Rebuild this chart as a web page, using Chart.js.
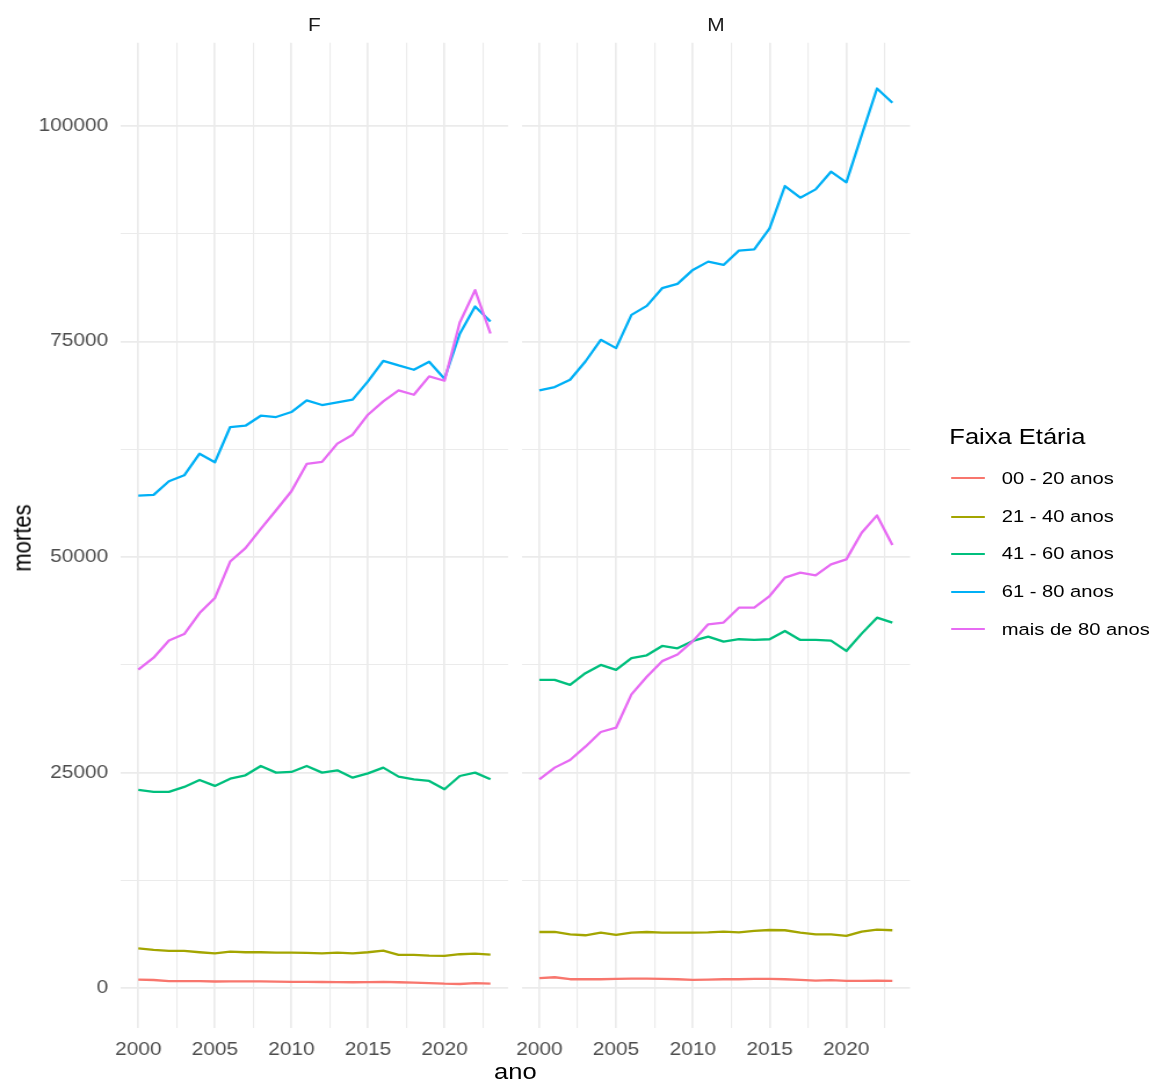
<!DOCTYPE html>
<html>
<head>
<meta charset="utf-8">
<script src="https://cdn.jsdelivr.net/npm/chart.js@4/dist/chart.umd.min.js"></script>
<style>
  html, body { margin: 0; padding: 0; background: #ffffff; overflow: hidden; }
  #stage { position: absolute; left: 0; top: 0; height: 1082px; transform-origin: 0 0;
           font-family: "Liberation Sans", Arial, sans-serif; }
  #stage canvas { position: absolute; left: 0; top: 0; }
  .txt { position: absolute; white-space: nowrap; }
</style>
</head>
<body>
<div id="stage"></div>
<script>
// ---- data: deaths per year, by sex and age group ----
const YEARS = [2000, 2001, 2002, 2003, 2004, 2005, 2006, 2007, 2008, 2009, 2010, 2011,
               2012, 2013, 2014, 2015, 2016, 2017, 2018, 2019, 2020, 2021, 2022, 2023];

const AGE_GROUPS = ['00 - 20 anos', '21 - 40 anos', '41 - 60 anos', '61 - 80 anos', 'mais de 80 anos'];
const SEXES = ['F', 'M'];

const F_00_20 = [1000, 950, 830, 820, 810, 780, 800, 800, 790, 760, 740, 730,
                 720, 700, 690, 700, 740, 690, 640, 590, 520, 490, 590, 540];
const F_21_40 = [4630, 4440, 4320, 4320, 4170, 4050, 4250, 4170, 4170, 4130, 4130, 4090,
                 4050, 4130, 4050, 4170, 4360, 3860, 3860, 3780, 3740, 3940, 4010, 3900];
const F_41_60 = [22990, 22760, 22760, 23340, 24150, 23460, 24300, 24690, 25770, 25000, 25080, 25770,
                 25000, 25270, 24420, 24920, 25580, 24540, 24230, 24040, 23070, 24610, 25000, 24230];
const F_61_80 = [57130, 57210, 58790, 59480, 61990, 60990, 65080, 65230, 66390, 66240, 66820, 68170,
                 67630, 67940, 68250, 70370, 72760, 72220, 71720, 72650, 70680, 75900, 79050, 77330];
const F_80_MAIS = [36940, 38330, 40330, 41070, 43500, 45240, 49480, 51030, 53270, 55430, 57630, 60800,
                   61030, 63150, 64190, 66510, 68050, 69330, 68820, 70950, 70450, 77200, 80950, 75930];

const M_00_20 = [1160, 1270, 1040, 1040, 1040, 1080, 1120, 1120, 1080, 1040, 965, 1000,
                 1040, 1040, 1080, 1080, 1040, 965, 890, 930, 850, 850, 890, 850];
const M_21_40 = [6520, 6520, 6250, 6140, 6450, 6180, 6450, 6520, 6450, 6450, 6450, 6480,
                 6560, 6480, 6640, 6750, 6720, 6450, 6250, 6250, 6060, 6560, 6790, 6720];
const M_41_60 = [35760, 35760, 35180, 36530, 37490, 36910, 38270, 38610, 39690, 39420, 40270, 40780,
                 40200, 40470, 40390, 40470, 41430, 40390, 40390, 40310, 39110, 41120, 42970, 42400];
const M_61_80 = [69330, 69710, 70560, 72680, 75190, 74230, 78090, 79130, 81180, 81680, 83300, 84260,
                 83880, 85540, 85690, 88120, 93030, 91680, 92640, 94690, 93450, 98930, 104340, 102680];
const M_80_MAIS = [24230, 25580, 26470, 28010, 29710, 30210, 34070, 36120, 37930, 38700, 40250, 42200,
                   42400, 44130, 44130, 45480, 47610, 48190, 47880, 49150, 49730, 52820, 54830, 51390];

// tick positions (major + minor grid) and the labelled subset
const X_TICKS = [2000, 2002.5, 2005, 2007.5, 2010, 2012.5, 2015, 2017.5, 2020, 2022.5];
const X_LABELS = [2000, 2005, 2010, 2015, 2020];
const Y_TICKS = [0, 12500, 25000, 37500, 50000, 62500, 75000, 87500, 100000];
const Y_LABELS = [0, 25000, 50000, 75000, 100000];

const PANEL_DATA = {
  F: [F_00_20, F_21_40, F_41_60, F_61_80, F_80_MAIS],
  M: [M_00_20, M_21_40, M_41_60, M_61_80, M_80_MAIS]
};

// ---- styling ----
const COLORS = ['#F8766D', '#A3A500', '#00BF7D', '#00B0F6', '#E76BF3'];
const FONT = '"Liberation Sans", Arial, sans-serif';
const SX = 1.16;                 // horizontal stretch of the whole figure
const PAGE_W = 1155, PAGE_H = 1082;
const STAGE_W = Math.ceil(PAGE_W / SX);

const AREA_TOP = 42.7, AREA_BOTTOM = 1028.3;
const PANELS = {
  F: { left: 120.7, right: 508.0, showY: true },
  M: { left: 521.7, right: 910.0, showY: false }
};
const X_MIN = 1998.85, X_MAX = 2024.15;
const Y_MIN = -4650, Y_MAX = 109650;

const stage = document.getElementById('stage');
stage.style.width = STAGE_W + 'px';
stage.style.transform = 'scaleX(' + SX + ')';

const sx = v => v / SX;

function addText(text, x, y, size, color, opts = {}) {
  const d = document.createElement('div');
  d.className = 'txt';
  d.textContent = text;
  d.style.fontSize = size + 'px';
  d.style.lineHeight = size + 'px';
  d.style.color = color;
  d.style.left = sx(x) + 'px';
  d.style.top = (y - size / 2) + 'px';
  if (opts.center) d.style.transform = 'translateX(-50%)';
  stage.appendChild(d);
  return d;
}

function makePanel(sex) {
  const p = PANELS[sex];
  const canvas = document.createElement('canvas');
  canvas.width = STAGE_W;
  canvas.height = PAGE_H;
  stage.appendChild(canvas);

  const datasets = AGE_GROUPS.map((g, i) => ({
    label: g,
    data: YEARS.map((yr, k) => ({ x: yr, y: PANEL_DATA[sex][i][k] })),
    borderColor: COLORS[i],
    backgroundColor: COLORS[i],
    borderWidth: 2.3,
    pointRadius: 0,
    tension: 0,
    fill: false,
    borderJoinStyle: 'round',
    order: AGE_GROUPS.length - i
  }));

  const areaLeft = sx(p.left);
  const areaRight = sx(p.right);

  new Chart(canvas, {
    type: 'line',
    data: { datasets },
    options: {
      responsive: false,
      animation: false,
      devicePixelRatio: 1,
      layout: { padding: { top: AREA_TOP, bottom: 0, left: 0, right: STAGE_W - areaRight } },
      plugins: { legend: { display: false }, tooltip: { enabled: false }, title: { display: false } },
      scales: {
        x: {
          type: 'linear',
          min: X_MIN, max: X_MAX,
          afterBuildTicks: s => { s.ticks = X_TICKS.map(v => ({ value: v })); },
          afterFit: s => { s.height = PAGE_H - AREA_BOTTOM; },
          grid: {
            color: '#ebebeb',
            lineWidth: c => (c.tick && X_LABELS.includes(c.tick.value)) ? 1.7 : 1.1,
            drawTicks: false
          },
          border: { display: false },
          ticks: {
            autoSkip: false, maxRotation: 0, minRotation: 0, padding: 11,
            color: '#4d4d4d',
            font: { family: FONT, size: 18 },
            callback: v => X_LABELS.includes(v) ? String(v) : ''
          }
        },
        y: {
          type: 'linear',
          min: Y_MIN, max: Y_MAX,
          afterBuildTicks: s => { s.ticks = Y_TICKS.map(v => ({ value: v })); },
          afterFit: s => { s.width = areaLeft; },
          grid: {
            color: '#ebebeb',
            lineWidth: c => (c.tick && Y_LABELS.includes(c.tick.value)) ? 1.7 : 1.1,
            drawTicks: false
          },
          border: { display: false },
          ticks: {
            display: p.showY,
            autoSkip: false, padding: sx(p.left) - sx(108.3),
            color: '#4d4d4d',
            font: { family: FONT, size: 18 },
            callback: v => Y_LABELS.includes(v) ? String(v) : ''
          }
        }
      }
    }
  });

  // facet strip label
  addText(sex, (p.left + p.right) / 2, 25, 18, '#1a1a1a', { center: true });
}

SEXES.forEach(makePanel);

// axis titles
addText('ano', (PANELS.F.left + PANELS.M.right) / 2, 1072, 22, '#000000', { center: true });
(function () {
  const d = addText('mortes', 0, 537.5, 22, '#000000');
  const w = d.offsetWidth;
  d.style.transformOrigin = '50% 50%';
  d.style.left = (19.5 - w / 2) + 'px';
  d.style.transform = 'rotate(-90deg)';
})();

// legend
addText('Faixa Etária', 949.3, 436.5, 22, '#000000');
const LEGEND_ROWS = [478.3, 516.7, 554.0, 591.7, 629.3];
AGE_GROUPS.forEach((g, i) => {
  const key = document.createElement('div');
  key.style.position = 'absolute';
  key.style.left = sx(951.7) + 'px';
  key.style.width = sx(985 - 951.7) + 'px';
  key.style.top = (LEGEND_ROWS[i] - 1.15) + 'px';
  key.style.height = '2.3px';
  key.style.background = COLORS[i];
  stage.appendChild(key);
  addText(g, 1001.7, LEGEND_ROWS[i], 17.4, '#000000');
});
</script>
</body>
</html>
